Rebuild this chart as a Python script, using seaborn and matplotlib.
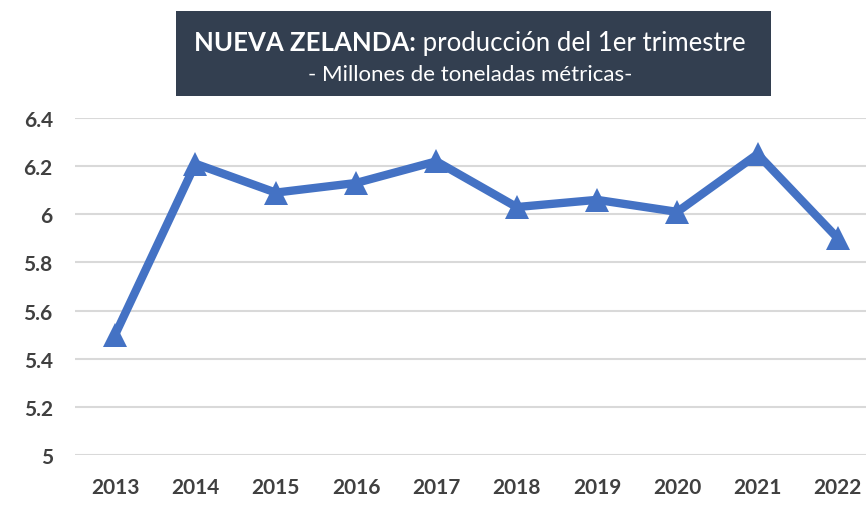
import pandas as pd
import numpy as np
import matplotlib
matplotlib.use("Agg")
import matplotlib.pyplot as plt
import seaborn as sns
from matplotlib.patches import Rectangle

# datos
years = ["2013", "2014", "2015", "2016", "2017", "2018", "2019", "2020", "2021", "2022"]
produccion = [5.50, 6.21, 6.09, 6.13, 6.22, 6.03, 6.06, 6.01, 6.25, 5.90]
yticks = [5, 5.2, 5.4, 5.6, 5.8, 6, 6.2, 6.4]
ytick_labels = ["5", "5.2", "5.4", "5.6", "5.8", "6", "6.2", "6.4"]

df = pd.DataFrame({"year": years, "value": produccion})

sns.set_theme(style="white")
plt.rcParams['font.family'] = ['Lato', 'DejaVu Sans']

fig = plt.figure(figsize=(8.66, 5.06), dpi=100)
ax = fig.add_axes([75 / 866, 50 / 506, (878 - 75) / 866, (456 - 119) / 506])

sns.lineplot(data=df, x="year", y="value", ax=ax, color="#4472C4", linewidth=6,
             marker="^", markersize=17, markeredgewidth=0, sort=False, clip_on=False)

ax.set_xlim(-0.5, len(years) - 0.5)
ax.set_ylim(5, 6.4)
ax.set_yticks(yticks)
ax.set_yticklabels(ytick_labels)
ax.yaxis.grid(True, color="#D9D9D9", linewidth=1.5)
ax.set_axisbelow(True)
for s in ax.spines.values():
    s.set_visible(False)
ax.set_xlabel("")
ax.set_ylabel("")
ax.tick_params(axis="both", length=0, labelsize=15, labelcolor="#404040")
ax.tick_params(axis="x", pad=16)
ax.tick_params(axis="y", pad=16)
for lab in ax.get_xticklabels() + ax.get_yticklabels():
    lab.set_fontweight("bold")

# caja del titulo
fig.patches.append(Rectangle((176 / 866, 1 - 97 / 506), (771 - 176) / 866, 85 / 506,
                             transform=fig.transFigure, facecolor="#333F50",
                             edgecolor="none", zorder=5))

cx = 470 / 866
y1 = 1 - 43 / 506
part1 = "NUEVA ZELANDA:"
part2 = " producción del 1er trimestre"
fig.canvas.draw()
r = fig.canvas.get_renderer()
t1 = fig.text(0, y1, part1, color="white", fontsize=18.5, fontweight="bold",
              va="center", ha="left", zorder=6)
t2 = fig.text(0, y1, part2, color="white", fontsize=18.5, va="center", ha="left", zorder=6)
w1 = t1.get_window_extent(r).width / fig.bbox.width
w2 = t2.get_window_extent(r).width / fig.bbox.width
x0 = cx - (w1 + w2) / 2
t1.set_x(x0)
t2.set_x(x0 + w1)
fig.text(cx, 1 - 75 / 506, "- Millones de toneladas métricas-", color="white",
         fontsize=16, ha="center", va="center", zorder=6)

fig.savefig("out.png", dpi=100)
